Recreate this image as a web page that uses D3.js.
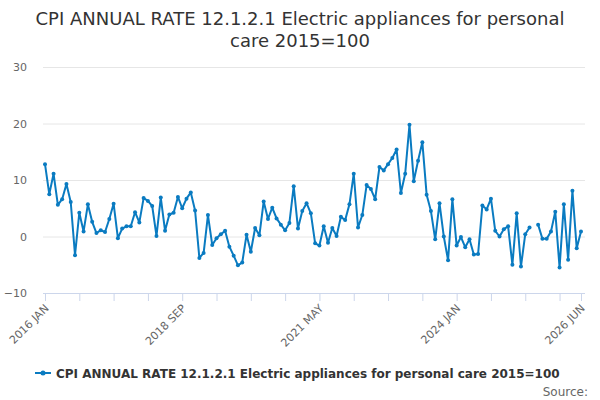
<!DOCTYPE html>
<html>
<head>
<meta charset="utf-8">
<script src="https://cdn.jsdelivr.net/npm/d3@7"></script>
<style>
  body { margin: 0; background: #fff; }
  svg { font-family: "DejaVu Sans", sans-serif; }
</style>
</head>
<body>
<div class="canvas"></div>
<script>
// monthly series, 2016 JAN .. 2026 JUN (null = no value)
const startYear = 2016;
const values = [
  12.8, 7.5, 11.1, 5.6, 6.6, 9.3, 6.1, -3.3, 4.2, 0.9, 5.7, 2.6,
  0.6, 1.1, 0.8, 3.1, 5.8, -0.3, 1.4, 1.8, 1.8, 4.3, 2.5, 6.8,
  6.3, 5.4, 0.1, 6.9, 1.0, 3.9, 4.2, 7.0, 5.0, 6.7, 7.8, 4.6,
  -3.8, -2.9, 3.8, -1.5, -0.3, 0.4, 1.0, -1.8, -3.4, -5.1, -4.6, 0.3,
  -2.7, 1.5, 0.2, 6.2, 3.1, 5.1, 3.2, 2.1, 1.1, 2.4, 8.9, 1.4,
  4.5, 5.9, 4.1, -1.2, -1.6, 1.8, -1.1, 1.5, 0.1, 3.5, 2.9, 5.7,
  11.1, 1.6, 3.8, 9.1, 8.4, 6.6, 12.3, 11.7, 12.8, 13.9, 15.4, 7.7,
  11.1, 19.8, 9.8, 13.4, 16.7, 7.4, 4.5, -0.5, 5.9, 0.0, -4.2, 6.6,
  -1.6, -0.1, -1.9, -0.5, -3.2, -3.1, 5.5, 4.8, 6.7, 1.0, 0.0, 1.3,
  1.8, -5.0, 4.1, -5.3, 0.4, 1.6, null, 2.1, -0.4, -0.4, 0.9, 4.4,
  -5.5, 5.7, -4.1, 8.1, -2.1, 0.9
];
const months = ['JAN','FEB','MAR','APR','MAY','JUN','JUL','AUG','SEP','OCT','NOV','DEC'];
const yTicks = [-10, 0, 10, 20, 30];
const labelled = [0, 32, 64, 96, 125];
const seriesName = 'CPI ANNUAL RATE 12.1.2.1 Electric appliances for personal care 2015=100';
const titleLines = ['CPI ANNUAL RATE 12.1.2.1 Electric appliances for personal', 'care 2015=100'];

const data = values.map((v, i) => ({ i, v }));
const monthLabel = i => `${startYear + Math.floor(i / 12)} ${months[i % 12]}`;

const width = 600, height = 400;
const svg = d3.select('.canvas')
  .append('svg')
  .attr('width', width)
  .attr('height', height);

// title
svg.append('g').selectAll('text')
  .data(titleLines)
  .enter().append('text')
  .attr('x', 300)
  .attr('y', (d, k) => 25 + k * 22)
  .attr('text-anchor', 'middle')
  .attr('fill', '#333333')
  .attr('font-size', '18px')
  .text(d => d);

const x = d3.scaleLinear()
  .domain([0, values.length - 1])
  .range([45, 581]);

const y = d3.scaleLinear()
  .domain([-10, 30])
  .range([293, 67]);

// gridlines + y labels
const yAxis = d3.axisLeft(y)
  .tickValues(yTicks)
  .tickSize(-542)
  .tickPadding(16);

const yAxisGroup = svg.append('g')
  .attr('transform', 'translate(43,0)')
  .call(yAxis);
yAxisGroup.select('.domain').remove();
yAxisGroup.selectAll('line').attr('stroke', '#e6e6e6');
yAxisGroup.selectAll('text')
  .attr('fill', '#666666')
  .attr('font-size', '11px')
  .attr('font-family', '"DejaVu Sans", sans-serif');

// x axis
const xTicks = d3.range(0, values.length, 8).concat([values.length - 1]);
const xAxis = d3.axisBottom(x)
  .tickValues(xTicks)
  .tickSize(8)
  .tickSizeOuter(0)
  .tickFormat(i => labelled.includes(i) ? monthLabel(i) : '');

const xAxisGroup = svg.append('g')
  .attr('transform', 'translate(0,293)')
  .call(xAxis);
xAxisGroup.select('.domain')
  .attr('stroke', '#ccd6eb')
  .attr('d', 'M43,0.5H585');
xAxisGroup.selectAll('line').attr('stroke', '#ccd6eb');
xAxisGroup.selectAll('text')
  .attr('fill', '#666666')
  .attr('font-size', '11px')
  .attr('font-family', '"DejaVu Sans", sans-serif')
  .attr('text-anchor', 'end')
  .attr('dy', null)
  .attr('y', 0)
  .attr('transform', 'translate(4,16) rotate(-45)');

// series line
const color = '#0a7bc1';
const line = d3.line()
  .defined(d => d.v != null)
  .x(d => x(d.i))
  .y(d => y(d.v));

svg.append('path')
  .datum(data)
  .attr('fill', 'none')
  .attr('stroke', color)
  .attr('stroke-width', 2)
  .attr('stroke-linejoin', 'round')
  .attr('d', line);

svg.append('g').selectAll('circle')
  .data(data.filter(d => d.v != null))
  .enter().append('circle')
  .attr('cx', d => x(d.i))
  .attr('cy', d => y(d.v))
  .attr('r', 2)
  .attr('fill', color);

// legend
const legend = svg.append('g').attr('transform', 'translate(35,373)');
legend.append('line')
  .attr('x1', 0).attr('x2', 16)
  .attr('stroke', color).attr('stroke-width', 2);
legend.append('circle')
  .attr('cx', 8).attr('r', 2.5).attr('fill', color);
legend.append('text')
  .attr('x', 21)
  .attr('y', 5)
  .attr('fill', '#333333')
  .attr('font-size', '12px')
  .attr('font-weight', 'bold')
  .text(seriesName);

svg.append('text')
  .attr('x', 588)
  .attr('y', 396)
  .attr('text-anchor', 'end')
  .attr('fill', '#666666')
  .attr('font-size', '12px')
  .text('Source:');
</script>
</body>
</html>
